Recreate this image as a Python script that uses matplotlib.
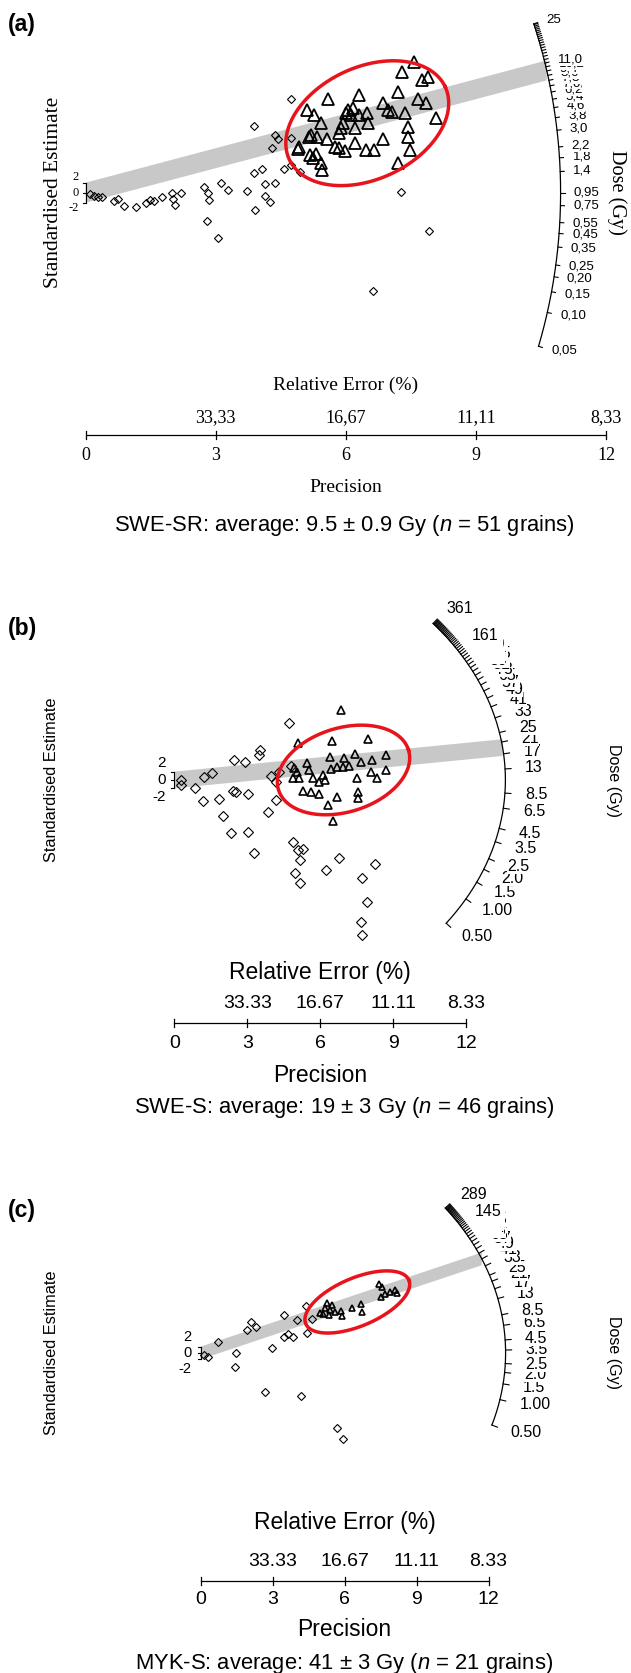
import numpy as np
import matplotlib.pyplot as plt
from matplotlib.patches import Polygon

plt.rcParams['mathtext.fontset'] = 'custom'
plt.rcParams['mathtext.rm'] = 'Liberation Sans'
plt.rcParams['mathtext.it'] = 'Liberation Sans:italic'

W, H = 631, 1673
SERIF = ['Liberation Serif', 'DejaVu Serif']
SANS = ['Liberation Sans', 'DejaVu Sans']
NARROW = ['Liberation Sans Narrow', 'Liberation Sans', 'DejaVu Sans']

# ---------------- (a) SWE-SR ----------------
a_dia_prec = [0.10, 0.19, 0.28, 0.37, 0.65, 0.75, 0.88, 1.16, 1.40, 1.49, 1.58, 1.77, 1.98, 2.02, 2.05,
              2.19, 2.73, 2.81, 2.84, 3.11, 3.28, 3.73, 3.91, 4.14, 4.14, 4.26, 4.36, 3.89, 4.07, 4.58,
              2.79, 3.04, 3.89, 4.30, 4.36, 4.44, 4.74, 4.74, 7.27, 7.92, 6.63, 4.74, 4.95]
a_dia_z = [-0.33, -0.67, -0.8, -0.93, -1.6, -1.33, -2.67, -2.8, -2.0, -1.47, -1.67, -0.8, 0.0, -1.33, -2.47,
           0.0, 1.07, 0.0, -1.47, 1.93, 0.53, 0.33, -3.53, 1.8, -0.67, -1.87, 1.87, 4.0, 4.67, 4.67,
           -5.6, -9.13, 13.33, 8.87, 11.53, 10.67, 18.67, 5.53, 0.07, -7.67, -19.67, 10.87, 4.2]
a_tri_prec = [7.56, 7.29, 7.75, 7.88, 7.19, 6.29, 5.58, 7.66, 7.84, 6.86, 6.05, 6.17, 5.10, 5.26, 6.01,
              6.12, 6.31, 6.49, 6.96, 7.05, 7.37, 8.08, 5.42, 5.93, 6.51, 6.21, 7.44, 5.89, 5.84, 5.19,
              5.33, 5.56, 6.86, 7.43, 6.20, 4.91, 4.89, 5.75, 5.84, 5.98, 6.45, 6.64, 7.47, 5.17, 5.31,
              5.24, 5.42, 5.45, 7.19, 5.15]
a_tri_z = [26.2, 24.2, 22.5, 23.1, 20.2, 19.5, 18.7, 18.7, 18.0, 18.0, 16.5, 16.9, 16.5, 15.5, 15.9,
           15.5, 15.5, 15.9, 16.5, 16.2, 15.9, 14.9, 14.0, 13.9, 13.9, 12.9, 13.2, 12.9, 11.9, 11.5,
           11.2, 10.7, 10.7, 11.1, 10.0, 9.2, 8.7, 9.2, 8.9, 8.4, 8.5, 8.5, 8.5, 7.5, 7.7,
           6.9, 5.9, 4.5, 5.9, 11.2]
a_ticks = [0.05, 0.10, 0.15, 0.20, 0.25, 0.35, 0.45, 0.55, 0.75, 0.95, 1.4, 1.8, 2.2, 3.0, 3.8,
           4.6, 5.4, 6.2, 7.0, 7.8, 8.6, 9.4, 10.2, 11.0, 11.8, 12.6, 13.4, 14.2, 15.0, 15.8, 16.6,
           17.4, 18.2, 19.0, 19.8, 20.6, 21.4, 22.2, 23.0, 23.8, 24.6, 25.0]
a_lab_vals = [0.05, 0.10, 0.15, 0.20, 0.25, 0.35, 0.45, 0.55, 0.75, 0.95, 1.4, 1.8, 2.2, 3.0, 3.8,
              4.6, 5.4, 6.2, 7.0, 7.8, 8.6, 9.4, 10.2, 11.0, 25.0]
a_lab_text = ['0,05', '0,10', '0,15', '0,20', '0,25', '0,35', '0,45', '0,55', '0,75', '0,95', '1,4',
              '1,8', '2,2', '3,0', '3,8', '4,6', '5,4', '6,2', '7,0', '7,8', '8,6', '9,4', '10,2',
              '11,0', '25']
a_ref, a_mean = 0.95, 9.5

# ---------------- (b) SWE-S ----------------
b_dia_prec = [0.27, 0.27, 0.86, 1.21, 1.54, 1.18, 1.83, 1.99, 2.46, 2.92, 2.43, 2.54, 3.04, 3.54, 3.50,
              3.99, 4.20, 3.84, 4.70, 2.34, 3.02, 3.26, 4.87, 5.07, 5.28, 5.17, 4.95, 5.17, 6.25, 6.78,
              7.74, 8.27, 7.94, 7.66, 7.72, 4.29, 4.78, 4.17]
b_dia_z = [0.0, -1.2, -1.83, 0.8, 1.75, -4.94, -4.47, -8.53, 4.78, 4.23, -2.55, -2.95, -3.43, 7.18, 5.98,
           0.96, -4.78, -7.66, 13.56, -12.68, -12.52, -17.54, -14.75, -16.75, -16.51, -19.14, -22.17,
           -24.56, -21.53, -18.58, -23.37, -20.18, -29.11, -33.89, -37.08, 2.0, 3.35, -0.4]
b_tri_prec = [6.86, 6.50, 7.97, 6.40, 6.99, 7.44, 7.69, 8.14, 8.69, 5.45, 4.92, 5.03, 5.53, 5.12, 4.87,
              5.70, 5.95, 6.20, 6.11, 6.45, 6.69, 6.94, 7.19, 7.52, 8.07, 8.32, 8.69, 5.28, 5.61, 5.95,
              6.69, 6.33, 7.57, 7.54, 6.53, 5.08]
b_tri_z = [16.75, 9.33, 9.81, 5.42, 5.18, 6.22, 4.39, 4.78, 5.98, 3.99, 2.79, 1.99, 2.39, 0.4, 0.4,
           0.4, -0.4, 0.0, 1.2, 2.55, 3.03, 3.19, 3.35, 0.4, 1.99, 0.4, 2.39, -2.55, -2.79, -3.35,
           -4.15, -5.98, -2.95, -4.39, -9.73, 8.93]
b_ticks = [0.5, 1.0, 1.5, 2.0, 2.5, 3.5, 4.5, 6.5, 8.5, 13, 17, 21, 25] + list(range(33, 362, 8))
b_lab_vals = [0.5, 1.0, 1.5, 2.0, 2.5, 3.5, 4.5, 6.5, 8.5, 13, 17, 21, 25] + list(range(33, 162, 8)) + [361]
b_lab_text = ['0.50', '1.00', '1.5', '2.0', '2.5', '3.5', '4.5', '6.5', '8.5', '13', '17', '21', '25'] + \
             [str(v) for v in range(33, 162, 8)] + ['361']
b_ref, b_mean = 10.7, 19

# ---------------- (c) MYK-S ----------------
c_dia_prec = [0.13, 0.32, 0.74, 1.47, 1.43, 1.92, 2.09, 2.31, 2.96, 3.49, 3.49, 3.65, 3.84, 4.03, 4.42,
              4.39, 4.65, 2.68, 4.18, 5.70, 5.92]
c_dia_z = [-0.53, -1.2, 3.37, -0.1, -4.3, 7.26, 9.9, 8.1, 1.47, 12.0, 4.95, 5.9, 5.14, 10.4, 6.2,
           14.8, 10.6, -12.2, -13.5, -23.8, -27.0]
c_tri_prec = [5.28, 5.18, 5.39, 4.98, 5.11, 5.35, 5.60, 5.84, 5.88, 6.30, 6.67, 6.73, 7.45, 7.57, 8.10,
              8.17, 7.68, 7.53, 7.89, 5.46]
c_tri_z = [15.9, 14.1, 13.6, 12.7, 12.3, 12.0, 13.0, 13.2, 11.7, 14.3, 15.5, 13.0, 21.8, 20.7, 19.9,
           18.8, 18.6, 17.6, 19.3, 15.1]
c_ticks = [0.5, 1.0, 1.5, 2.0, 2.5, 3.5, 4.5, 6.5, 8.5, 13, 17, 21, 25] + list(range(33, 290, 8))
c_lab_vals = [0.5, 1.0, 1.5, 2.0, 2.5, 3.5, 4.5, 6.5, 8.5, 13, 17, 21, 25] + list(range(33, 146, 8)) + [289]
c_lab_text = ['0.50', '1.00', '1.5', '2.0', '2.5', '3.5', '4.5', '6.5', '8.5', '13', '17', '21', '25'] + \
             [str(v) for v in range(33, 146, 8)] + ['289']
c_ref, c_mean = 3.25, 41

prec_ticks = [0, 3, 6, 9, 12]

panels = [
    dict(tag='(a)', tag_y=25, origin=(85.6, 192.7), sx=43.4, sy=5.0, arc=(475, 510),
         ref=a_ref, mean=a_mean, ticks=a_ticks, lab_vals=a_lab_vals, lab_text=a_lab_text,
         lab_font=NARROW, lab_fs=9.5, lab_off=13, tick_len=4,
         dia=(a_dia_prec, a_dia_z), tri=(a_tri_prec, a_tri_z),
         ms_dia=3.8, ms_tri=8.5, mew_tri=1.3, ell=(6.49, 13.9, 86, 56, 25),
         axis_y=435, font=SERIF, fs_rel=14, fs_prec=14, fs_tick=13, fs_z=9, z_sp=15.5, z_gap=7,
         sep=',', ylab_x=54, ylab_fs=15.4, dose_x=617, dose_fs=14.6,
         cap='SWE-SR: average: 9.5 $\\pm$ 0.9 Gy ($n$ = 51 grains)',
         offs=(-50, -17, 20, 52, 90)),
    dict(tag='(b)', tag_y=628, origin=(174.4, 780), sx=24.3, sy=4.18, arc=(331, 251),
         ref=b_ref, mean=b_mean, ticks=b_ticks, lab_vals=b_lab_vals, lab_text=b_lab_text,
         lab_font=SANS, lab_fs=11.5, lab_off=20, tick_len=6,
         dia=(b_dia_prec, b_dia_z), tri=(b_tri_prec, b_tri_z),
         ms_dia=4.8, ms_tri=5.4, mew_tri=1.2, ell=(6.96, 2.4, 68, 42, 17),
         axis_y=1023, font=SANS, fs_rel=16.5, fs_prec=16.5, fs_tick=14, fs_z=11, z_sp=17, z_gap=9,
         sep='.', ylab_x=52, ylab_fs=11.8, dose_x=613, dose_fs=11.5,
         cap='SWE-S: average: 19 $\\pm$ 3 Gy ($n$ = 46 grains)',
         offs=(-50, -20, 20, 52, 84)),
    dict(tag='(c)', tag_y=1210, origin=(200.6, 1353), sx=24.0, sy=3.17, arc=(305, 243),
         ref=c_ref, mean=c_mean, ticks=c_ticks, lab_vals=c_lab_vals, lab_text=c_lab_text,
         lab_font=SANS, lab_fs=11.5, lab_off=20, tick_len=6,
         dia=(c_dia_prec, c_dia_z), tri=(c_tri_prec, c_tri_z),
         ms_dia=4.4, ms_tri=4.8, mew_tri=1.2, ell=(6.53, 16.1, 56, 24, 23),
         axis_y=1581, font=SANS, fs_rel=16.5, fs_prec=16.5, fs_tick=14, fs_z=10.5, z_sp=16, z_gap=9,
         sep='.', ylab_x=52, ylab_fs=11.8, dose_x=613, dose_fs=11.5,
         cap='MYK-S: average: 41 $\\pm$ 3 Gy ($n$ = 21 grains)',
         offs=(-58, -19, 19, 49, 82)),
]

fig = plt.figure(figsize=(W / 100, H / 100), dpi=100)


def ftext(x, y, s, **kw):
    fig.text(x / W, 1 - y / H, s, **kw)


def draw(p):
    ax = fig.add_axes([0, 0, 1, 1])
    ax.axis('off')
    ax.patch.set_visible(False)
    x0, y0 = p['origin']
    sx, sy = p['sx'], p['sy']
    ax.set_xlim(-x0 / sx, (W - x0) / sx)
    ax.set_ylim((y0 - H) / sy, y0 / sy)
    ea, eb = p['arc']

    def arc_pt(d):
        m = np.log(d / p['ref'])
        t = 1 / np.sqrt((sx / ea) ** 2 + (sy * m / eb) ** 2)
        return t, t * m

    def normal(x, z):
        n = np.array([x * sx / ea ** 2, z * sy / eb ** 2])
        return n / np.hypot(*n)

    # 2-sigma band towards the mean dose
    pe, ze = arc_pt(p['mean'])
    ax.add_patch(Polygon([(0, -2), (0, 2), (pe, ze + 2), (pe, ze - 2)], closed=True,
                         fc='#c8c8c8', ec='none', zorder=1))

    # dose arc
    ds = np.geomspace(min(p['ticks']), max(p['ticks']), 400)
    pts = np.array([arc_pt(d) for d in ds])
    ax.plot(pts[:, 0], pts[:, 1], color='k', lw=0.9, zorder=2)
    tl = p['tick_len']
    for d in p['ticks']:
        x, z = arc_pt(d)
        n = normal(x, z)
        ax.plot([x, x + tl * n[0] / sx], [z, z + tl * n[1] / sy], color='k', lw=0.8, zorder=2)
    # crowded labels overprint each other, higher doses on top
    lo = p['lab_off']
    for i, (d, s) in enumerate(zip(p['lab_vals'], p['lab_text'])):
        x, z = arc_pt(d)
        n = normal(x, z)
        ax.text(x + lo * n[0] / sx, z + lo * n[1] / sy, s, ha='left', va='center',
                family=p['lab_font'], fontsize=p['lab_fs'], zorder=6 + i * 0.01,
                bbox=dict(fc='white', ec='none', pad=0))

    # +-2 bracket at origin
    ax.plot([0, 0], [-2, 2], color='k', lw=0.8)
    for zz in (-2, 0, 2):
        ax.plot([0, -3 / sx], [zz, zz], color='k', lw=0.8)
    for zz, s in ((1, '2'), (0, '0'), (-1, '-2')):
        ax.text(-p['z_gap'] / sx, zz * p['z_sp'] / sy, s, ha='right', va='center',
                family=p['font'], fontsize=p['fs_z'])

    # points
    dp, dz = p['dia']
    ax.plot(dp, dz, ls='none', marker='D', ms=p['ms_dia'], mfc='none', mec='k', mew=0.8, zorder=4)
    tp, tz = p['tri']
    ax.plot(tp, tz, ls='none', marker='^', ms=p['ms_tri'], mfc='none', mec='k',
            mew=p['mew_tri'], zorder=4)

    # red ellipse
    pc, zc, A, B, ang = p['ell']
    t = np.linspace(0, 2 * np.pi, 300)
    phi = np.radians(ang)
    X = A * np.cos(t) * np.cos(phi) - B * np.sin(t) * np.sin(phi)
    Y = A * np.cos(t) * np.sin(phi) + B * np.sin(t) * np.cos(phi)
    ax.plot(pc + X / sx, zc + Y / sy, color='#e8141c', lw=2.5, zorder=5)

    # precision axis
    za = (y0 - p['axis_y']) / sy
    ax.plot([prec_ticks[0], prec_ticks[-1]], [za, za], color='k', lw=0.9)
    o_rel, o_top, o_bot, o_prec, o_cap = p['offs']
    for v in prec_ticks:
        ax.plot([v, v], [za - 4 / sy, za + 4 / sy], color='k', lw=0.9)
        ax.text(v, za - o_bot / sy, str(v), ha='center', va='center',
                family=p['font'], fontsize=p['fs_tick'])
        if v > 0:
            ax.text(v, za - o_top / sy, '{:.2f}'.format(100 / v).replace('.', p['sep']),
                    ha='center', va='center', family=p['font'], fontsize=p['fs_tick'])
    xm = x0 + 6 * sx
    ftext(xm, p['axis_y'] + o_rel, 'Relative Error (%)', ha='center', va='center',
          family=p['font'], fontsize=p['fs_rel'])
    ftext(xm, p['axis_y'] + o_prec, 'Precision', ha='center', va='center',
          family=p['font'], fontsize=p['fs_prec'])
    ftext(344, p['axis_y'] + o_cap, p['cap'], ha='center', va='center',
          family=SANS, fontsize=15.8)

    ftext(p['ylab_x'], y0, 'Standardised Estimate', rotation=90, ha='center', va='center',
          family=p['font'], fontsize=p['ylab_fs'])
    ftext(p['dose_x'], y0, 'Dose (Gy)', rotation=-90, ha='center', va='center',
          family=p['font'], fontsize=p['dose_fs'])
    ftext(8, p['tag_y'], p['tag'], ha='left', va='center', family=SANS,
          fontsize=16.5, fontweight='bold')


for p in panels:
    draw(p)

fig.savefig('out.png', dpi=100)
